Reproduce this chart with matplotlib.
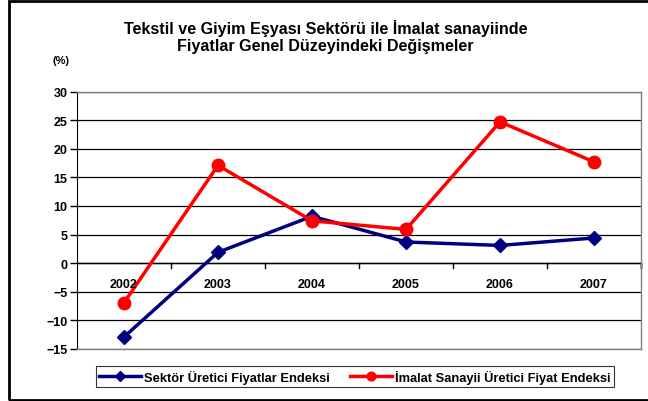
import numpy as np
import matplotlib.pyplot as plt
from matplotlib.patches import Rectangle

plt.rcParams['font.family'] = ['Liberation Sans', 'DejaVu Sans']
plt.rcParams['font.weight'] = 'bold'

years = ['2002', '2003', '2004', '2005', '2006', '2007']
sektor = [-12.9, 1.9, 8.2, 3.7, 3.1, 4.4]
imalat = [-6.9, 17.1, 7.4, 5.9, 24.7, 17.7]

fig = plt.figure(figsize=(6.48, 4.02), dpi=100)
ax = fig.add_axes([77 / 648, 52 / 402, 564 / 648, 257.5 / 402])

x = np.arange(len(years))
ax.plot(x, sektor, color='#000080', lw=2.5, marker='D', ms=7,
        label='Sektör Üretici Fiyatlar Endeksi', zorder=3)
ax.plot(x, imalat, color='#ff0000', lw=2.5, marker='o', ms=9,
        label='İmalat Sanayii Üretici Fiyat Endeksi', zorder=3)

ax.set_xlim(-0.5, len(years) - 0.5)
ax.set_ylim(-15, 30)
ax.set_yticks(np.arange(-15, 31, 5))
ax.tick_params(axis='y', labelsize=9, length=5, direction='out', width=1, pad=2)
for lbl in ax.get_yticklabels():
    lbl.set_fontweight('bold')

ax.yaxis.grid(True, color='#000000', lw=0.9)
ax.set_axisbelow(True)
ax.set_xticks([])
for s in ['top', 'right', 'bottom']:
    ax.spines[s].set_color('#808080')
    ax.spines[s].set_linewidth(1)
ax.spines['left'].set_color('#000000')

# category axis at y=0
ax.axhline(0, color='#000000', lw=1, zorder=2)
for b in np.arange(0.5, len(years), 1.0):
    ax.plot([b, b], [0, -0.8], color='#000000', lw=1, clip_on=False, zorder=2)
ax.plot([len(years) - 0.5] * 2, [0, -0.8], color='#000000', lw=1, clip_on=False)
for i, yr in enumerate(years):
    ax.text(i, -3.6, yr, ha='center', va='center', fontsize=9, fontweight='bold')

fig.text(0.502, 1 - 37 / 402, 'Tekstil ve Giyim Eşyası Sektörü ile İmalat sanayiinde\n'
         'Fiyatlar Genel Düzeyindeki Değişmeler',
         ha='center', va='center', fontsize=11.6, fontweight='bold', linespacing=1.2)
fig.text(61 / 648, 1 - 61 / 402, '(%)', ha='center', va='center', fontsize=8, fontweight='bold')

leg = ax.legend(loc='center', bbox_to_anchor=(355 / 648, 1 - 377.5 / 402),
                bbox_transform=fig.transFigure, ncol=2, fontsize=9.3,
                frameon=True, fancybox=False, edgecolor='#000000',
                handlelength=3.2, columnspacing=1.6, handletextpad=0.25,
                borderpad=0.3, borderaxespad=0.2, markerscale=0.7)
leg.get_frame().set_linewidth(0.8)
for t in leg.get_texts():
    t.set_fontweight('bold')

fig.patches.append(Rectangle((9 / 648, 1.5 / 402), 660 / 648, 399 / 402,
                             transform=fig.transFigure, fill=False,
                             edgecolor='#000000', lw=2, clip_on=False))

fig.savefig('out.png', dpi=100)
